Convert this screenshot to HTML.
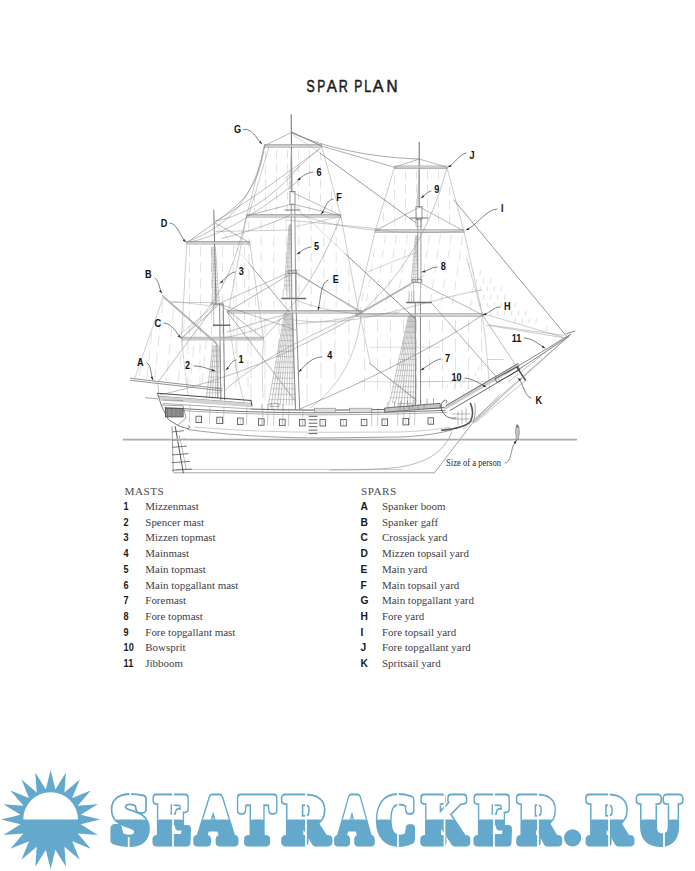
<!DOCTYPE html>
<html><head><meta charset="utf-8">
<style>
html,body{margin:0;padding:0;background:#fff;}
body{width:695px;height:871px;position:relative;overflow:hidden;}
.t{position:absolute;white-space:nowrap;}
#title{left:306px;top:75px;font-family:"Liberation Sans",sans-serif;font-size:16px;letter-spacing:1.2px;color:#1d1d1f;}
.leg{position:absolute;white-space:nowrap;font-family:"Liberation Serif",serif;font-size:11px;line-height:12px;color:#3a3a40;}
.hd{position:absolute;white-space:nowrap;font-family:"Liberation Serif",serif;font-size:11px;line-height:12px;color:#55555c;letter-spacing:0.3px;}
.n{position:absolute;white-space:nowrap;font-family:"Liberation Sans",sans-serif;font-weight:bold;font-size:9.5px;line-height:11px;color:#1e1e22;}
svg{position:absolute;left:0;top:0;}
</style></head><body>
<svg id="ship" width="695" height="871" viewBox="0 0 695 871" fill="none" stroke-linecap="round">
<line x1="254.5" y1="194.0" x2="254.5" y2="211.0" stroke="#d6d6d6" stroke-width="0.7" stroke-dasharray="8 6"/>
<line x1="265.5" y1="151.9" x2="265.5" y2="211.0" stroke="#d6d6d6" stroke-width="0.7" stroke-dasharray="8 6"/>
<line x1="276.5" y1="150.0" x2="276.5" y2="211.0" stroke="#d6d6d6" stroke-width="0.7" stroke-dasharray="8 6"/>
<line x1="287.5" y1="150.0" x2="287.5" y2="211.0" stroke="#d6d6d6" stroke-width="0.7" stroke-dasharray="8 6"/>
<line x1="298.5" y1="150.0" x2="298.5" y2="211.0" stroke="#d6d6d6" stroke-width="0.7" stroke-dasharray="8 6"/>
<line x1="309.5" y1="150.0" x2="309.5" y2="211.0" stroke="#d6d6d6" stroke-width="0.7" stroke-dasharray="8 6"/>
<line x1="320.5" y1="151.8" x2="320.5" y2="211.0" stroke="#d6d6d6" stroke-width="0.7" stroke-dasharray="8 6"/>
<line x1="331.5" y1="191.5" x2="331.5" y2="211.0" stroke="#d6d6d6" stroke-width="0.7" stroke-dasharray="8 6"/>
<line x1="236.2" y1="281.4" x2="236.2" y2="307.0" stroke="#d6d6d6" stroke-width="0.7" stroke-dasharray="9 7"/>
<line x1="248.8" y1="222.2" x2="248.8" y2="307.0" stroke="#d6d6d6" stroke-width="0.7" stroke-dasharray="9 7"/>
<line x1="261.2" y1="221.0" x2="261.2" y2="307.0" stroke="#d6d6d6" stroke-width="0.7" stroke-dasharray="9 7"/>
<line x1="273.8" y1="221.0" x2="273.8" y2="307.0" stroke="#d6d6d6" stroke-width="0.7" stroke-dasharray="9 7"/>
<line x1="286.2" y1="221.0" x2="286.2" y2="307.0" stroke="#d6d6d6" stroke-width="0.7" stroke-dasharray="9 7"/>
<line x1="298.8" y1="221.0" x2="298.8" y2="307.0" stroke="#d6d6d6" stroke-width="0.7" stroke-dasharray="9 7"/>
<line x1="311.2" y1="221.0" x2="311.2" y2="307.0" stroke="#d6d6d6" stroke-width="0.7" stroke-dasharray="9 7"/>
<line x1="323.8" y1="221.0" x2="323.8" y2="307.0" stroke="#d6d6d6" stroke-width="0.7" stroke-dasharray="9 7"/>
<line x1="336.2" y1="221.0" x2="336.2" y2="307.0" stroke="#d6d6d6" stroke-width="0.7" stroke-dasharray="9 7"/>
<line x1="348.8" y1="267.2" x2="348.8" y2="307.0" stroke="#d6d6d6" stroke-width="0.7" stroke-dasharray="9 7"/>
<line x1="237.0" y1="318.0" x2="237.0" y2="376.3" stroke="#d6d6d6" stroke-width="0.7" stroke-dasharray="16 6"/>
<line x1="251.0" y1="318.0" x2="251.0" y2="403.0" stroke="#d6d6d6" stroke-width="0.7" stroke-dasharray="16 6"/>
<line x1="265.0" y1="318.0" x2="265.0" y2="403.0" stroke="#d6d6d6" stroke-width="0.7" stroke-dasharray="16 6"/>
<line x1="279.0" y1="318.0" x2="279.0" y2="403.0" stroke="#d6d6d6" stroke-width="0.7" stroke-dasharray="16 6"/>
<line x1="293.0" y1="318.0" x2="293.0" y2="403.0" stroke="#d6d6d6" stroke-width="0.7" stroke-dasharray="16 6"/>
<line x1="307.0" y1="318.0" x2="307.0" y2="403.0" stroke="#d6d6d6" stroke-width="0.7" stroke-dasharray="16 6"/>
<line x1="321.0" y1="318.0" x2="321.0" y2="396.2" stroke="#d6d6d6" stroke-width="0.7" stroke-dasharray="16 6"/>
<line x1="335.0" y1="318.0" x2="335.0" y2="385.6" stroke="#d6d6d6" stroke-width="0.7" stroke-dasharray="16 6"/>
<line x1="349.0" y1="318.0" x2="349.0" y2="360.9" stroke="#d6d6d6" stroke-width="0.7" stroke-dasharray="16 6"/>
<line x1="383.5" y1="212.7" x2="383.5" y2="227.0" stroke="#d6d6d6" stroke-width="0.7" stroke-dasharray="8 6"/>
<line x1="394.5" y1="176.0" x2="394.5" y2="227.0" stroke="#d6d6d6" stroke-width="0.7" stroke-dasharray="8 6"/>
<line x1="405.5" y1="171.0" x2="405.5" y2="227.0" stroke="#d6d6d6" stroke-width="0.7" stroke-dasharray="8 6"/>
<line x1="416.5" y1="171.0" x2="416.5" y2="227.0" stroke="#d6d6d6" stroke-width="0.7" stroke-dasharray="8 6"/>
<line x1="427.5" y1="171.0" x2="427.5" y2="227.0" stroke="#d6d6d6" stroke-width="0.7" stroke-dasharray="8 6"/>
<line x1="438.5" y1="171.0" x2="438.5" y2="227.0" stroke="#d6d6d6" stroke-width="0.7" stroke-dasharray="8 6"/>
<line x1="449.5" y1="186.9" x2="449.5" y2="227.0" stroke="#d6d6d6" stroke-width="0.7" stroke-dasharray="8 6"/>
<line x1="363.5" y1="292.3" x2="360.8" y2="310.0" stroke="#d6d6d6" stroke-width="0.7" stroke-dasharray="8 7"/>
<line x1="374.5" y1="248.8" x2="365.3" y2="310.0" stroke="#d6d6d6" stroke-width="0.7" stroke-dasharray="8 7"/>
<line x1="385.5" y1="235.0" x2="374.2" y2="310.0" stroke="#d6d6d6" stroke-width="0.7" stroke-dasharray="8 7"/>
<line x1="396.5" y1="235.0" x2="385.2" y2="310.0" stroke="#d6d6d6" stroke-width="0.7" stroke-dasharray="8 7"/>
<line x1="407.5" y1="235.0" x2="396.2" y2="310.0" stroke="#d6d6d6" stroke-width="0.7" stroke-dasharray="8 7"/>
<line x1="418.5" y1="235.0" x2="407.2" y2="310.0" stroke="#d6d6d6" stroke-width="0.7" stroke-dasharray="8 7"/>
<line x1="429.5" y1="235.0" x2="418.2" y2="310.0" stroke="#d6d6d6" stroke-width="0.7" stroke-dasharray="8 7"/>
<line x1="440.5" y1="235.0" x2="429.2" y2="310.0" stroke="#d6d6d6" stroke-width="0.7" stroke-dasharray="8 7"/>
<line x1="451.5" y1="235.0" x2="440.2" y2="310.0" stroke="#d6d6d6" stroke-width="0.7" stroke-dasharray="8 7"/>
<line x1="462.5" y1="237.2" x2="451.6" y2="310.0" stroke="#d6d6d6" stroke-width="0.7" stroke-dasharray="8 7"/>
<line x1="473.5" y1="285.5" x2="469.8" y2="310.0" stroke="#d6d6d6" stroke-width="0.7" stroke-dasharray="8 7"/>
<line x1="364.5" y1="320.0" x2="364.5" y2="396.0" stroke="#d6d6d6" stroke-width="0.7" stroke-dasharray="12 7"/>
<line x1="377.5" y1="320.0" x2="377.5" y2="396.0" stroke="#d6d6d6" stroke-width="0.7" stroke-dasharray="12 7"/>
<line x1="390.5" y1="320.0" x2="390.5" y2="396.0" stroke="#d6d6d6" stroke-width="0.7" stroke-dasharray="12 7"/>
<line x1="403.5" y1="320.0" x2="403.5" y2="396.0" stroke="#d6d6d6" stroke-width="0.7" stroke-dasharray="12 7"/>
<line x1="416.5" y1="320.0" x2="416.5" y2="396.0" stroke="#d6d6d6" stroke-width="0.7" stroke-dasharray="12 7"/>
<line x1="429.5" y1="320.0" x2="429.5" y2="396.0" stroke="#d6d6d6" stroke-width="0.7" stroke-dasharray="12 7"/>
<line x1="442.5" y1="320.0" x2="442.5" y2="396.0" stroke="#d6d6d6" stroke-width="0.7" stroke-dasharray="12 7"/>
<line x1="455.5" y1="320.0" x2="455.5" y2="396.0" stroke="#d6d6d6" stroke-width="0.7" stroke-dasharray="12 7"/>
<line x1="468.5" y1="320.0" x2="468.5" y2="396.0" stroke="#d6d6d6" stroke-width="0.7" stroke-dasharray="12 7"/>
<line x1="481.5" y1="320.0" x2="481.5" y2="377.1" stroke="#d6d6d6" stroke-width="0.7" stroke-dasharray="12 7"/>
<line x1="189.5" y1="247.0" x2="189.5" y2="334.0" stroke="#d6d6d6" stroke-width="0.7" stroke-dasharray="9 7"/>
<line x1="200.5" y1="247.0" x2="200.5" y2="334.0" stroke="#d6d6d6" stroke-width="0.7" stroke-dasharray="9 7"/>
<line x1="211.5" y1="247.0" x2="211.5" y2="334.0" stroke="#d6d6d6" stroke-width="0.7" stroke-dasharray="9 7"/>
<line x1="222.5" y1="247.0" x2="222.5" y2="334.0" stroke="#d6d6d6" stroke-width="0.7" stroke-dasharray="9 7"/>
<line x1="233.5" y1="247.0" x2="233.5" y2="334.0" stroke="#d6d6d6" stroke-width="0.7" stroke-dasharray="9 7"/>
<line x1="244.5" y1="247.0" x2="244.5" y2="334.0" stroke="#d6d6d6" stroke-width="0.7" stroke-dasharray="9 7"/>
<line x1="255.5" y1="295.8" x2="255.5" y2="334.0" stroke="#d6d6d6" stroke-width="0.7" stroke-dasharray="9 7"/>
<line x1="188.0" y1="343.0" x2="188.0" y2="393.0" stroke="#d6d6d6" stroke-width="0.7" stroke-dasharray="10 7"/>
<line x1="200.0" y1="343.0" x2="200.0" y2="393.0" stroke="#d6d6d6" stroke-width="0.7" stroke-dasharray="10 7"/>
<line x1="212.0" y1="343.0" x2="212.0" y2="393.0" stroke="#d6d6d6" stroke-width="0.7" stroke-dasharray="10 7"/>
<line x1="224.0" y1="343.0" x2="224.0" y2="393.0" stroke="#d6d6d6" stroke-width="0.7" stroke-dasharray="10 7"/>
<line x1="236.0" y1="343.0" x2="236.0" y2="393.0" stroke="#d6d6d6" stroke-width="0.7" stroke-dasharray="10 7"/>
<line x1="248.0" y1="343.0" x2="248.0" y2="393.0" stroke="#d6d6d6" stroke-width="0.7" stroke-dasharray="10 7"/>
<line x1="140.5" y1="365.3" x2="139.3" y2="377.5" stroke="#d6d6d6" stroke-width="0.7" stroke-dasharray="10 7"/>
<line x1="151.5" y1="333.9" x2="147.0" y2="378.4" stroke="#d6d6d6" stroke-width="0.7" stroke-dasharray="10 7"/>
<line x1="162.5" y1="302.4" x2="154.8" y2="379.3" stroke="#d6d6d6" stroke-width="0.7" stroke-dasharray="10 7"/>
<line x1="173.5" y1="310.3" x2="166.5" y2="380.2" stroke="#d6d6d6" stroke-width="0.7" stroke-dasharray="10 7"/>
<line x1="184.5" y1="320.0" x2="178.4" y2="381.2" stroke="#d6d6d6" stroke-width="0.7" stroke-dasharray="10 7"/>
<line x1="195.5" y1="329.7" x2="190.3" y2="382.1" stroke="#d6d6d6" stroke-width="0.7" stroke-dasharray="10 7"/>
<line x1="206.5" y1="339.4" x2="202.1" y2="383.0" stroke="#d6d6d6" stroke-width="0.7" stroke-dasharray="10 7"/>
<line x1="264.4" y1="146.0" x2="246.6" y2="216.0" stroke="#ababab" stroke-width="0.6" />
<line x1="269.0" y1="147.0" x2="249.0" y2="214.0" stroke="#ababab" stroke-width="0.6" />
<line x1="321.5" y1="146.0" x2="340.8" y2="216.0" stroke="#ababab" stroke-width="0.6" />
<line x1="246.6" y1="216.0" x2="228.3" y2="312.0" stroke="#ababab" stroke-width="0.6" />
<line x1="340.8" y1="216.0" x2="358.6" y2="311.0" stroke="#ababab" stroke-width="0.6" />
<line x1="394.5" y1="167.3" x2="375.2" y2="231.0" stroke="#ababab" stroke-width="0.6" />
<line x1="446.9" y1="167.3" x2="463.9" y2="231.0" stroke="#ababab" stroke-width="0.6" />
<line x1="375.2" y1="231.0" x2="355.5" y2="314.8" stroke="#ababab" stroke-width="0.6" />
<line x1="463.9" y1="231.0" x2="482.4" y2="314.8" stroke="#ababab" stroke-width="0.6" />
<line x1="186.8" y1="242.8" x2="181.5" y2="338.6" stroke="#ababab" stroke-width="0.6" />
<line x1="249.8" y1="242.8" x2="263.5" y2="338.6" stroke="#ababab" stroke-width="0.6" />
<line x1="163.2" y1="297.0" x2="134.7" y2="378.4" stroke="#ababab" stroke-width="0.6" />
<path d="M361.4,313 C357,360 335,390 310,408" stroke="#ababab" stroke-width="0.6" />
<path d="M228.3,313 C232,350 238,380 244,402" stroke="#ababab" stroke-width="0.55" />
<line x1="360.0" y1="315.5" x2="370.2" y2="363.1" stroke="#ababab" stroke-width="0.55" />
<path d="M482.4,316 C486,340 488,365 489.6,390" stroke="#ababab" stroke-width="0.55" />
<path d="M181.5,340 C184,360 186,380 188,395" stroke="#ababab" stroke-width="0.5" />
<path d="M263.5,340 C262,360 262,380 263,398" stroke="#ababab" stroke-width="0.5" />
<line x1="370.0" y1="347.2" x2="440.0" y2="347.2" stroke="#bdbdbd" stroke-width="0.5" />
<line x1="360.0" y1="381.7" x2="440.0" y2="381.7" stroke="#bdbdbd" stroke-width="0.5" />
<line x1="291.2" y1="114.6" x2="291.8" y2="192.0" stroke="#6a6a6a" stroke-width="1.0" />
<line x1="291.2" y1="205.0" x2="291.8" y2="298.0" stroke="#6a6a6a" stroke-width="0.7" />
<line x1="294.8" y1="205.0" x2="295.7" y2="298.0" stroke="#6a6a6a" stroke-width="0.7" />
<line x1="291.6" y1="300.0" x2="295.6" y2="409.0" stroke="#6a6a6a" stroke-width="0.8" />
<line x1="295.8" y1="300.0" x2="299.6" y2="409.0" stroke="#6a6a6a" stroke-width="0.8" />
<rect x="290.0" y="191.6" width="5.0" height="13.1" stroke="#666" stroke-width="0.7" fill="none"/>
<line x1="419.2" y1="142.2" x2="419.2" y2="207.0" stroke="#6a6a6a" stroke-width="1.0" />
<line x1="417.7" y1="219.0" x2="417.7" y2="281.0" stroke="#6a6a6a" stroke-width="0.7" />
<line x1="420.9" y1="219.0" x2="420.9" y2="281.0" stroke="#6a6a6a" stroke-width="0.7" />
<rect x="416.0" y="219.6" width="5.5" height="7.0" stroke="#888" stroke-width="0.5" fill="none"/>
<line x1="415.3" y1="303.0" x2="415.5" y2="405.0" stroke="#6a6a6a" stroke-width="0.8" />
<line x1="420.4" y1="303.0" x2="420.6" y2="405.0" stroke="#6a6a6a" stroke-width="0.8" />
<rect x="416.0" y="206.7" width="6.0" height="12.3" stroke="#666" stroke-width="0.7" fill="none"/>
<line x1="213.8" y1="210.0" x2="216.0" y2="305.0" stroke="#6a6a6a" stroke-width="0.9" />
<line x1="219.6" y1="304.0" x2="220.8" y2="400.0" stroke="#6a6a6a" stroke-width="0.8" />
<line x1="223.2" y1="304.0" x2="224.7" y2="400.0" stroke="#6a6a6a" stroke-width="0.8" />
<line x1="213.6" y1="304.0" x2="213.8" y2="326.0" stroke="#888" stroke-width="0.5" />
<line x1="216.8" y1="345.0" x2="217.6" y2="398.0" stroke="#777" stroke-width="0.6" />
<line x1="282.0" y1="298.6" x2="305.6" y2="298.6" stroke="#6a6a6a" stroke-width="1.5" />
<line x1="406.8" y1="302.6" x2="431.0" y2="302.6" stroke="#6a6a6a" stroke-width="1.5" />
<line x1="213.5" y1="325.3" x2="229.7" y2="325.3" stroke="#6a6a6a" stroke-width="1.5" />
<line x1="285.0" y1="210.0" x2="300.0" y2="210.0" stroke="#777" stroke-width="1.0" />
<line x1="410.0" y1="218.0" x2="428.0" y2="218.0" stroke="#777" stroke-width="1.0" />
<line x1="211.0" y1="304.0" x2="223.0" y2="304.0" stroke="#777" stroke-width="1.0" />
<rect x="288.0" y="270.2" width="8.8" height="3.2" stroke="#666" stroke-width="0.6" fill="none"/>
<rect x="289.2" y="273.4" width="7.2" height="25.0" stroke="#888" stroke-width="0.5" fill="none"/>
<rect x="412.3" y="279.3" width="9.0" height="3.4" stroke="#666" stroke-width="0.6" fill="none"/>
<rect x="413.2" y="282.7" width="7.4" height="19.5" stroke="#888" stroke-width="0.5" fill="none"/>
<line x1="264.4" y1="144.6" x2="321.5" y2="144.6" stroke="#9a9a9a" stroke-width="0.8" />
<line x1="264.4" y1="147.2" x2="321.5" y2="147.2" stroke="#9a9a9a" stroke-width="0.8" />
<line x1="264.4" y1="145.9" x2="321.5" y2="145.9" stroke="#c8c8c8" stroke-width="1.6" />
<line x1="246.6" y1="214.5" x2="340.8" y2="214.5" stroke="#9a9a9a" stroke-width="0.8" />
<line x1="246.6" y1="217.1" x2="340.8" y2="217.1" stroke="#9a9a9a" stroke-width="0.8" />
<line x1="246.6" y1="215.8" x2="340.8" y2="215.8" stroke="#c8c8c8" stroke-width="1.6" />
<line x1="227.5" y1="310.5" x2="361.6" y2="310.5" stroke="#9a9a9a" stroke-width="0.8" />
<line x1="227.5" y1="313.1" x2="361.6" y2="313.1" stroke="#9a9a9a" stroke-width="0.8" />
<line x1="227.5" y1="311.8" x2="361.6" y2="311.8" stroke="#c8c8c8" stroke-width="1.6" />
<line x1="186.8" y1="241.5" x2="249.8" y2="241.5" stroke="#9a9a9a" stroke-width="0.8" />
<line x1="186.8" y1="244.1" x2="249.8" y2="244.1" stroke="#9a9a9a" stroke-width="0.8" />
<line x1="186.8" y1="242.8" x2="249.8" y2="242.8" stroke="#c8c8c8" stroke-width="1.6" />
<line x1="181.5" y1="337.3" x2="263.5" y2="337.3" stroke="#9a9a9a" stroke-width="0.8" />
<line x1="181.5" y1="339.9" x2="263.5" y2="339.9" stroke="#9a9a9a" stroke-width="0.8" />
<line x1="181.5" y1="338.6" x2="263.5" y2="338.6" stroke="#c8c8c8" stroke-width="1.6" />
<line x1="394.5" y1="166.0" x2="446.9" y2="166.0" stroke="#9a9a9a" stroke-width="0.8" />
<line x1="394.5" y1="168.6" x2="446.9" y2="168.6" stroke="#9a9a9a" stroke-width="0.8" />
<line x1="394.5" y1="167.3" x2="446.9" y2="167.3" stroke="#c8c8c8" stroke-width="1.6" />
<line x1="375.2" y1="229.7" x2="463.9" y2="229.7" stroke="#9a9a9a" stroke-width="0.8" />
<line x1="375.2" y1="232.3" x2="463.9" y2="232.3" stroke="#9a9a9a" stroke-width="0.8" />
<line x1="375.2" y1="231.0" x2="463.9" y2="231.0" stroke="#c8c8c8" stroke-width="1.6" />
<line x1="356.1" y1="313.7" x2="482.7" y2="313.7" stroke="#9a9a9a" stroke-width="0.8" />
<line x1="356.1" y1="316.3" x2="482.7" y2="316.3" stroke="#9a9a9a" stroke-width="0.8" />
<line x1="356.1" y1="315.0" x2="482.7" y2="315.0" stroke="#c8c8c8" stroke-width="1.6" />
<line x1="162.5" y1="295.4" x2="216.7" y2="343.0" stroke="#777" stroke-width="0.8" />
<line x1="164.0" y1="297.6" x2="217.5" y2="345.0" stroke="#777" stroke-width="0.8" />
<line x1="163.0" y1="296.5" x2="217.0" y2="344.0" stroke="#bbb" stroke-width="1.2" />
<line x1="130.4" y1="378.3" x2="221.9" y2="388.8" stroke="#777" stroke-width="0.8" />
<line x1="130.4" y1="380.3" x2="221.9" y2="390.8" stroke="#777" stroke-width="0.8" />
<line x1="292.0" y1="132.2" x2="264.4" y2="145.9" stroke="#888" stroke-width="0.6" />
<line x1="292.0" y1="132.2" x2="321.5" y2="145.9" stroke="#888" stroke-width="0.6" />
<line x1="292.5" y1="204.0" x2="246.6" y2="215.8" stroke="#888" stroke-width="0.6" />
<line x1="292.5" y1="204.0" x2="340.8" y2="215.8" stroke="#888" stroke-width="0.6" />
<line x1="293.5" y1="272.0" x2="227.5" y2="311.8" stroke="#888" stroke-width="0.6" />
<line x1="293.5" y1="272.0" x2="361.6" y2="311.8" stroke="#888" stroke-width="0.6" />
<line x1="419.2" y1="159.0" x2="394.5" y2="167.3" stroke="#888" stroke-width="0.6" />
<line x1="419.2" y1="159.0" x2="446.9" y2="167.3" stroke="#888" stroke-width="0.6" />
<line x1="419.5" y1="207.0" x2="375.2" y2="231.0" stroke="#888" stroke-width="0.6" />
<line x1="419.5" y1="207.0" x2="463.9" y2="231.0" stroke="#888" stroke-width="0.6" />
<line x1="416.0" y1="281.0" x2="356.1" y2="315.0" stroke="#888" stroke-width="0.6" />
<line x1="416.0" y1="281.0" x2="482.7" y2="315.0" stroke="#888" stroke-width="0.6" />
<line x1="214.9" y1="222.7" x2="186.8" y2="242.8" stroke="#888" stroke-width="0.6" />
<line x1="214.9" y1="222.7" x2="249.8" y2="242.8" stroke="#888" stroke-width="0.6" />
<line x1="219.5" y1="304.0" x2="181.5" y2="338.6" stroke="#888" stroke-width="0.6" />
<line x1="219.5" y1="304.0" x2="263.5" y2="338.6" stroke="#888" stroke-width="0.6" />
<line x1="284.5" y1="313.8" x2="268.3" y2="405.0" stroke="#8f8f8f" stroke-width="0.5" />
<line x1="285.4" y1="313.8" x2="271.3" y2="405.0" stroke="#8f8f8f" stroke-width="0.5" />
<line x1="286.4" y1="313.8" x2="274.2" y2="405.0" stroke="#8f8f8f" stroke-width="0.5" />
<line x1="287.3" y1="313.8" x2="277.2" y2="405.0" stroke="#8f8f8f" stroke-width="0.5" />
<line x1="288.3" y1="313.8" x2="280.2" y2="405.0" stroke="#8f8f8f" stroke-width="0.5" />
<line x1="289.2" y1="313.8" x2="283.1" y2="405.0" stroke="#8f8f8f" stroke-width="0.5" />
<line x1="290.2" y1="313.8" x2="286.1" y2="405.0" stroke="#8f8f8f" stroke-width="0.5" />
<line x1="291.1" y1="313.8" x2="289.1" y2="405.0" stroke="#8f8f8f" stroke-width="0.5" />
<line x1="292.1" y1="313.8" x2="292.0" y2="405.0" stroke="#8f8f8f" stroke-width="0.5" />
<line x1="293.0" y1="313.8" x2="295.0" y2="405.0" stroke="#8f8f8f" stroke-width="0.5" />
<line x1="283.5" y1="319.2" x2="293.1" y2="319.2" stroke="#8f8f8f" stroke-width="0.4" />
<line x1="282.6" y1="324.5" x2="293.2" y2="324.5" stroke="#8f8f8f" stroke-width="0.4" />
<line x1="281.6" y1="329.9" x2="293.4" y2="329.9" stroke="#8f8f8f" stroke-width="0.4" />
<line x1="280.7" y1="335.3" x2="293.5" y2="335.3" stroke="#8f8f8f" stroke-width="0.4" />
<line x1="279.7" y1="340.6" x2="293.6" y2="340.6" stroke="#8f8f8f" stroke-width="0.4" />
<line x1="278.8" y1="346.0" x2="293.7" y2="346.0" stroke="#8f8f8f" stroke-width="0.4" />
<line x1="277.8" y1="351.4" x2="293.8" y2="351.4" stroke="#8f8f8f" stroke-width="0.4" />
<line x1="276.9" y1="356.7" x2="293.9" y2="356.7" stroke="#8f8f8f" stroke-width="0.4" />
<line x1="275.9" y1="362.1" x2="294.1" y2="362.1" stroke="#8f8f8f" stroke-width="0.4" />
<line x1="275.0" y1="367.4" x2="294.2" y2="367.4" stroke="#8f8f8f" stroke-width="0.4" />
<line x1="274.0" y1="372.8" x2="294.3" y2="372.8" stroke="#8f8f8f" stroke-width="0.4" />
<line x1="273.1" y1="378.2" x2="294.4" y2="378.2" stroke="#8f8f8f" stroke-width="0.4" />
<line x1="272.1" y1="383.5" x2="294.5" y2="383.5" stroke="#8f8f8f" stroke-width="0.4" />
<line x1="271.2" y1="388.9" x2="294.6" y2="388.9" stroke="#8f8f8f" stroke-width="0.4" />
<line x1="270.2" y1="394.3" x2="294.8" y2="394.3" stroke="#8f8f8f" stroke-width="0.4" />
<line x1="269.3" y1="399.6" x2="294.9" y2="399.6" stroke="#8f8f8f" stroke-width="0.4" />
<line x1="408.5" y1="316.0" x2="389.5" y2="403.0" stroke="#8f8f8f" stroke-width="0.5" />
<line x1="409.3" y1="316.0" x2="392.4" y2="403.0" stroke="#8f8f8f" stroke-width="0.5" />
<line x1="410.1" y1="316.0" x2="395.4" y2="403.0" stroke="#8f8f8f" stroke-width="0.5" />
<line x1="410.8" y1="316.0" x2="398.3" y2="403.0" stroke="#8f8f8f" stroke-width="0.5" />
<line x1="411.6" y1="316.0" x2="401.3" y2="403.0" stroke="#8f8f8f" stroke-width="0.5" />
<line x1="412.4" y1="316.0" x2="404.2" y2="403.0" stroke="#8f8f8f" stroke-width="0.5" />
<line x1="413.2" y1="316.0" x2="407.2" y2="403.0" stroke="#8f8f8f" stroke-width="0.5" />
<line x1="413.9" y1="316.0" x2="410.1" y2="403.0" stroke="#8f8f8f" stroke-width="0.5" />
<line x1="414.7" y1="316.0" x2="413.1" y2="403.0" stroke="#8f8f8f" stroke-width="0.5" />
<line x1="415.5" y1="316.0" x2="416.0" y2="403.0" stroke="#8f8f8f" stroke-width="0.5" />
<line x1="407.3" y1="321.4" x2="415.5" y2="321.4" stroke="#8f8f8f" stroke-width="0.4" />
<line x1="406.1" y1="326.9" x2="415.6" y2="326.9" stroke="#8f8f8f" stroke-width="0.4" />
<line x1="404.9" y1="332.3" x2="415.6" y2="332.3" stroke="#8f8f8f" stroke-width="0.4" />
<line x1="403.8" y1="337.8" x2="415.6" y2="337.8" stroke="#8f8f8f" stroke-width="0.4" />
<line x1="402.6" y1="343.2" x2="415.7" y2="343.2" stroke="#8f8f8f" stroke-width="0.4" />
<line x1="401.4" y1="348.6" x2="415.7" y2="348.6" stroke="#8f8f8f" stroke-width="0.4" />
<line x1="400.2" y1="354.1" x2="415.7" y2="354.1" stroke="#8f8f8f" stroke-width="0.4" />
<line x1="399.0" y1="359.5" x2="415.8" y2="359.5" stroke="#8f8f8f" stroke-width="0.4" />
<line x1="397.8" y1="364.9" x2="415.8" y2="364.9" stroke="#8f8f8f" stroke-width="0.4" />
<line x1="396.6" y1="370.4" x2="415.8" y2="370.4" stroke="#8f8f8f" stroke-width="0.4" />
<line x1="395.4" y1="375.8" x2="415.8" y2="375.8" stroke="#8f8f8f" stroke-width="0.4" />
<line x1="394.2" y1="381.2" x2="415.9" y2="381.2" stroke="#8f8f8f" stroke-width="0.4" />
<line x1="393.1" y1="386.7" x2="415.9" y2="386.7" stroke="#8f8f8f" stroke-width="0.4" />
<line x1="391.9" y1="392.1" x2="415.9" y2="392.1" stroke="#8f8f8f" stroke-width="0.4" />
<line x1="390.7" y1="397.6" x2="416.0" y2="397.6" stroke="#8f8f8f" stroke-width="0.4" />
<line x1="213.0" y1="345.6" x2="206.4" y2="398.0" stroke="#8f8f8f" stroke-width="0.5" />
<line x1="214.3" y1="345.6" x2="209.3" y2="398.0" stroke="#8f8f8f" stroke-width="0.5" />
<line x1="215.6" y1="345.6" x2="212.2" y2="398.0" stroke="#8f8f8f" stroke-width="0.5" />
<line x1="216.9" y1="345.6" x2="215.2" y2="398.0" stroke="#8f8f8f" stroke-width="0.5" />
<line x1="218.2" y1="345.6" x2="218.1" y2="398.0" stroke="#8f8f8f" stroke-width="0.5" />
<line x1="219.5" y1="345.6" x2="221.0" y2="398.0" stroke="#8f8f8f" stroke-width="0.5" />
<line x1="212.3" y1="350.8" x2="219.7" y2="350.8" stroke="#8f8f8f" stroke-width="0.4" />
<line x1="211.7" y1="356.1" x2="219.8" y2="356.1" stroke="#8f8f8f" stroke-width="0.4" />
<line x1="211.0" y1="361.3" x2="219.9" y2="361.3" stroke="#8f8f8f" stroke-width="0.4" />
<line x1="210.4" y1="366.6" x2="220.1" y2="366.6" stroke="#8f8f8f" stroke-width="0.4" />
<line x1="209.7" y1="371.8" x2="220.2" y2="371.8" stroke="#8f8f8f" stroke-width="0.4" />
<line x1="209.0" y1="377.0" x2="220.4" y2="377.0" stroke="#8f8f8f" stroke-width="0.4" />
<line x1="208.4" y1="382.3" x2="220.6" y2="382.3" stroke="#8f8f8f" stroke-width="0.4" />
<line x1="207.7" y1="387.5" x2="220.7" y2="387.5" stroke="#8f8f8f" stroke-width="0.4" />
<line x1="207.1" y1="392.8" x2="220.8" y2="392.8" stroke="#8f8f8f" stroke-width="0.4" />
<line x1="289.0" y1="225.0" x2="284.2" y2="290.0" stroke="#999" stroke-width="0.5" />
<line x1="289.6" y1="225.0" x2="286.1" y2="290.0" stroke="#999" stroke-width="0.5" />
<line x1="290.1" y1="225.0" x2="287.9" y2="290.0" stroke="#999" stroke-width="0.5" />
<line x1="290.7" y1="225.0" x2="289.8" y2="290.0" stroke="#999" stroke-width="0.5" />
<line x1="291.3" y1="225.0" x2="291.6" y2="290.0" stroke="#999" stroke-width="0.5" />
<line x1="288.7" y1="229.6" x2="291.3" y2="229.6" stroke="#999" stroke-width="0.4" />
<line x1="288.3" y1="234.3" x2="291.3" y2="234.3" stroke="#999" stroke-width="0.4" />
<line x1="288.0" y1="238.9" x2="291.4" y2="238.9" stroke="#999" stroke-width="0.4" />
<line x1="287.6" y1="243.6" x2="291.4" y2="243.6" stroke="#999" stroke-width="0.4" />
<line x1="287.3" y1="248.2" x2="291.4" y2="248.2" stroke="#999" stroke-width="0.4" />
<line x1="286.9" y1="252.9" x2="291.4" y2="252.9" stroke="#999" stroke-width="0.4" />
<line x1="286.6" y1="257.5" x2="291.5" y2="257.5" stroke="#999" stroke-width="0.4" />
<line x1="286.3" y1="262.1" x2="291.5" y2="262.1" stroke="#999" stroke-width="0.4" />
<line x1="285.9" y1="266.8" x2="291.5" y2="266.8" stroke="#999" stroke-width="0.4" />
<line x1="285.6" y1="271.4" x2="291.5" y2="271.4" stroke="#999" stroke-width="0.4" />
<line x1="285.2" y1="276.1" x2="291.5" y2="276.1" stroke="#999" stroke-width="0.4" />
<line x1="284.9" y1="280.7" x2="291.6" y2="280.7" stroke="#999" stroke-width="0.4" />
<line x1="284.5" y1="285.4" x2="291.6" y2="285.4" stroke="#999" stroke-width="0.4" />
<line x1="283.1" y1="290.0" x2="283.1" y2="298.0" stroke="#999" stroke-width="0.5" />
<line x1="286.9" y1="290.0" x2="286.9" y2="298.0" stroke="#999" stroke-width="0.5" />
<line x1="290.2" y1="290.0" x2="290.2" y2="298.0" stroke="#999" stroke-width="0.5" />
<line x1="415.6" y1="236.0" x2="411.4" y2="281.0" stroke="#999" stroke-width="0.5" />
<line x1="416.3" y1="236.0" x2="413.5" y2="281.0" stroke="#999" stroke-width="0.5" />
<line x1="417.0" y1="236.0" x2="415.6" y2="281.0" stroke="#999" stroke-width="0.5" />
<line x1="417.7" y1="236.0" x2="417.7" y2="281.0" stroke="#999" stroke-width="0.5" />
<line x1="415.3" y1="239.5" x2="417.7" y2="239.5" stroke="#999" stroke-width="0.4" />
<line x1="415.0" y1="242.9" x2="417.7" y2="242.9" stroke="#999" stroke-width="0.4" />
<line x1="414.6" y1="246.4" x2="417.7" y2="246.4" stroke="#999" stroke-width="0.4" />
<line x1="414.3" y1="249.8" x2="417.7" y2="249.8" stroke="#999" stroke-width="0.4" />
<line x1="414.0" y1="253.3" x2="417.7" y2="253.3" stroke="#999" stroke-width="0.4" />
<line x1="413.7" y1="256.8" x2="417.7" y2="256.8" stroke="#999" stroke-width="0.4" />
<line x1="413.3" y1="260.2" x2="417.7" y2="260.2" stroke="#999" stroke-width="0.4" />
<line x1="413.0" y1="263.7" x2="417.7" y2="263.7" stroke="#999" stroke-width="0.4" />
<line x1="412.7" y1="267.2" x2="417.7" y2="267.2" stroke="#999" stroke-width="0.4" />
<line x1="412.4" y1="270.6" x2="417.7" y2="270.6" stroke="#999" stroke-width="0.4" />
<line x1="412.0" y1="274.1" x2="417.7" y2="274.1" stroke="#999" stroke-width="0.4" />
<line x1="411.7" y1="277.5" x2="417.7" y2="277.5" stroke="#999" stroke-width="0.4" />
<line x1="409.0" y1="291.0" x2="409.0" y2="302.0" stroke="#999" stroke-width="0.5" />
<line x1="411.5" y1="291.0" x2="411.5" y2="302.0" stroke="#999" stroke-width="0.5" />
<line x1="414.0" y1="291.0" x2="414.0" y2="302.0" stroke="#999" stroke-width="0.5" />
<line x1="211.5" y1="247.0" x2="213.0" y2="304.0" stroke="#999" stroke-width="0.5" />
<line x1="212.8" y1="247.0" x2="215.1" y2="304.0" stroke="#999" stroke-width="0.5" />
<line x1="214.0" y1="247.0" x2="217.2" y2="304.0" stroke="#999" stroke-width="0.5" />
<line x1="215.3" y1="247.0" x2="219.3" y2="304.0" stroke="#999" stroke-width="0.5" />
<line x1="211.6" y1="250.4" x2="215.5" y2="250.4" stroke="#999" stroke-width="0.4" />
<line x1="211.7" y1="253.7" x2="215.8" y2="253.7" stroke="#999" stroke-width="0.4" />
<line x1="211.8" y1="257.1" x2="216.0" y2="257.1" stroke="#999" stroke-width="0.4" />
<line x1="211.9" y1="260.4" x2="216.2" y2="260.4" stroke="#999" stroke-width="0.4" />
<line x1="211.9" y1="263.8" x2="216.5" y2="263.8" stroke="#999" stroke-width="0.4" />
<line x1="212.0" y1="267.1" x2="216.7" y2="267.1" stroke="#999" stroke-width="0.4" />
<line x1="212.1" y1="270.5" x2="216.9" y2="270.5" stroke="#999" stroke-width="0.4" />
<line x1="212.2" y1="273.8" x2="217.2" y2="273.8" stroke="#999" stroke-width="0.4" />
<line x1="212.3" y1="277.2" x2="217.4" y2="277.2" stroke="#999" stroke-width="0.4" />
<line x1="212.4" y1="280.5" x2="217.7" y2="280.5" stroke="#999" stroke-width="0.4" />
<line x1="212.5" y1="283.9" x2="217.9" y2="283.9" stroke="#999" stroke-width="0.4" />
<line x1="212.6" y1="287.2" x2="218.1" y2="287.2" stroke="#999" stroke-width="0.4" />
<line x1="212.6" y1="290.6" x2="218.4" y2="290.6" stroke="#999" stroke-width="0.4" />
<line x1="212.7" y1="293.9" x2="218.6" y2="293.9" stroke="#999" stroke-width="0.4" />
<line x1="212.8" y1="297.3" x2="218.8" y2="297.3" stroke="#999" stroke-width="0.4" />
<line x1="212.9" y1="300.6" x2="219.1" y2="300.6" stroke="#999" stroke-width="0.4" />
<line x1="291.3" y1="150.0" x2="289.0" y2="190.0" stroke="#aaa" stroke-width="0.5" />
<line x1="291.5" y1="150.0" x2="290.5" y2="190.0" stroke="#aaa" stroke-width="0.5" />
<line x1="291.6" y1="150.0" x2="292.0" y2="190.0" stroke="#aaa" stroke-width="0.5" />
<line x1="290.9" y1="156.7" x2="291.7" y2="156.7" stroke="#aaa" stroke-width="0.4" />
<line x1="290.5" y1="163.3" x2="291.7" y2="163.3" stroke="#aaa" stroke-width="0.4" />
<line x1="290.1" y1="170.0" x2="291.8" y2="170.0" stroke="#aaa" stroke-width="0.4" />
<line x1="289.8" y1="176.7" x2="291.9" y2="176.7" stroke="#aaa" stroke-width="0.4" />
<line x1="289.4" y1="183.3" x2="291.9" y2="183.3" stroke="#aaa" stroke-width="0.4" />
<line x1="419.2" y1="170.0" x2="417.0" y2="205.0" stroke="#aaa" stroke-width="0.5" />
<line x1="419.2" y1="170.0" x2="418.2" y2="205.0" stroke="#aaa" stroke-width="0.5" />
<line x1="419.2" y1="170.0" x2="419.5" y2="205.0" stroke="#aaa" stroke-width="0.5" />
<line x1="418.8" y1="177.0" x2="419.3" y2="177.0" stroke="#aaa" stroke-width="0.4" />
<line x1="418.3" y1="184.0" x2="419.3" y2="184.0" stroke="#aaa" stroke-width="0.4" />
<line x1="417.9" y1="191.0" x2="419.4" y2="191.0" stroke="#aaa" stroke-width="0.4" />
<line x1="417.4" y1="198.0" x2="419.4" y2="198.0" stroke="#aaa" stroke-width="0.4" />
<path d="M292,132.2 L321.5,146 L394.5,167.3" stroke="#7a7a7a" stroke-width="0.6" />
<path d="M292,133 C330,150 380,158 419.2,159" stroke="#7a7a7a" stroke-width="0.65" />
<line x1="321.5" y1="147.0" x2="285.0" y2="178.5" stroke="#999" stroke-width="0.5" />
<line x1="320.3" y1="153.3" x2="416.0" y2="222.8" stroke="#6f6f6f" stroke-width="0.7" />
<line x1="292.0" y1="134.0" x2="320.3" y2="153.3" stroke="#aaa" stroke-width="0.5" />
<line x1="292.5" y1="204.0" x2="345.5" y2="254.0" stroke="#b0b0b0" stroke-width="0.5" />
<line x1="345.5" y1="254.0" x2="415.0" y2="318.5" stroke="#6f6f6f" stroke-width="0.75" />
<line x1="369.4" y1="363.3" x2="416.1" y2="399.8" stroke="#6f6f6f" stroke-width="0.7" />
<line x1="295.0" y1="271.7" x2="359.5" y2="312.0" stroke="#888" stroke-width="0.6" />
<path d="M482.5,315 Q419,358.6 300,409" stroke="#7a7a7a" stroke-width="0.6" />
<line x1="482.5" y1="315.0" x2="517.0" y2="367.0" stroke="#888" stroke-width="0.55" />
<line x1="486.0" y1="325.0" x2="565.0" y2="338.0" stroke="#999" stroke-width="0.5" />
<line x1="420.0" y1="381.5" x2="496.0" y2="381.5" stroke="#aaa" stroke-width="0.5" />
<line x1="410.0" y1="285.0" x2="358.7" y2="314.7" stroke="#888" stroke-width="0.55" />
<path d="M358.7,314.7 Q260,372.7 160,395" stroke="#888" stroke-width="0.55" />
<line x1="227.0" y1="311.5" x2="293.7" y2="399.0" stroke="#7a7a7a" stroke-width="0.6" />
<line x1="414.7" y1="253.0" x2="368.0" y2="271.7" stroke="#aaa" stroke-width="0.5" />
<line x1="424.0" y1="275.5" x2="356.7" y2="314.7" stroke="#999" stroke-width="0.5" />
<line x1="295.0" y1="226.8" x2="340.8" y2="216.5" stroke="#aaa" stroke-width="0.5" />
<line x1="293.0" y1="192.6" x2="339.4" y2="214.8" stroke="#888" stroke-width="0.55" />
<line x1="285.0" y1="219.8" x2="379.7" y2="228.9" stroke="#999" stroke-width="0.5" />
<line x1="431.0" y1="302.5" x2="500.0" y2="381.0" stroke="#7a7a7a" stroke-width="0.6" />
<line x1="454.0" y1="200.0" x2="566.8" y2="336.6" stroke="#6f6f6f" stroke-width="0.7" />
<line x1="470.0" y1="263.0" x2="469.4" y2="267.0" stroke="#c8c8c8" stroke-width="0.6" />
<line x1="473.5" y1="271.0" x2="472.9" y2="275.0" stroke="#c8c8c8" stroke-width="0.6" />
<line x1="480.5" y1="271.0" x2="479.9" y2="275.0" stroke="#c8c8c8" stroke-width="0.6" />
<line x1="477.0" y1="279.0" x2="476.4" y2="283.0" stroke="#c8c8c8" stroke-width="0.6" />
<line x1="484.0" y1="279.0" x2="483.4" y2="283.0" stroke="#c8c8c8" stroke-width="0.6" />
<line x1="491.0" y1="279.0" x2="490.4" y2="283.0" stroke="#c8c8c8" stroke-width="0.6" />
<line x1="480.5" y1="287.0" x2="479.9" y2="291.0" stroke="#c8c8c8" stroke-width="0.6" />
<line x1="487.5" y1="287.0" x2="486.9" y2="291.0" stroke="#c8c8c8" stroke-width="0.6" />
<line x1="494.5" y1="287.0" x2="493.9" y2="291.0" stroke="#c8c8c8" stroke-width="0.6" />
<line x1="501.5" y1="287.0" x2="500.9" y2="291.0" stroke="#c8c8c8" stroke-width="0.6" />
<line x1="484.0" y1="295.0" x2="483.4" y2="299.0" stroke="#c8c8c8" stroke-width="0.6" />
<line x1="491.0" y1="295.0" x2="490.4" y2="299.0" stroke="#c8c8c8" stroke-width="0.6" />
<line x1="498.0" y1="295.0" x2="497.4" y2="299.0" stroke="#c8c8c8" stroke-width="0.6" />
<line x1="505.0" y1="295.0" x2="504.4" y2="299.0" stroke="#c8c8c8" stroke-width="0.6" />
<line x1="480.5" y1="303.0" x2="479.9" y2="307.0" stroke="#c8c8c8" stroke-width="0.6" />
<line x1="487.5" y1="303.0" x2="486.9" y2="307.0" stroke="#c8c8c8" stroke-width="0.6" />
<line x1="494.5" y1="303.0" x2="493.9" y2="307.0" stroke="#c8c8c8" stroke-width="0.6" />
<line x1="501.5" y1="303.0" x2="500.9" y2="307.0" stroke="#c8c8c8" stroke-width="0.6" />
<line x1="508.5" y1="303.0" x2="507.9" y2="307.0" stroke="#c8c8c8" stroke-width="0.6" />
<line x1="515.5" y1="303.0" x2="514.9" y2="307.0" stroke="#c8c8c8" stroke-width="0.6" />
<line x1="491.0" y1="311.0" x2="490.4" y2="315.0" stroke="#c8c8c8" stroke-width="0.6" />
<line x1="498.0" y1="311.0" x2="497.4" y2="315.0" stroke="#c8c8c8" stroke-width="0.6" />
<line x1="505.0" y1="311.0" x2="504.4" y2="315.0" stroke="#c8c8c8" stroke-width="0.6" />
<line x1="512.0" y1="311.0" x2="511.4" y2="315.0" stroke="#c8c8c8" stroke-width="0.6" />
<line x1="519.0" y1="311.0" x2="518.4" y2="315.0" stroke="#c8c8c8" stroke-width="0.6" />
<line x1="526.0" y1="311.0" x2="525.4" y2="315.0" stroke="#c8c8c8" stroke-width="0.6" />
<line x1="515.5" y1="319.0" x2="514.9" y2="323.0" stroke="#c8c8c8" stroke-width="0.6" />
<line x1="522.5" y1="319.0" x2="521.9" y2="323.0" stroke="#c8c8c8" stroke-width="0.6" />
<line x1="529.5" y1="319.0" x2="528.9" y2="323.0" stroke="#c8c8c8" stroke-width="0.6" />
<line x1="536.5" y1="319.0" x2="535.9" y2="323.0" stroke="#c8c8c8" stroke-width="0.6" />
<line x1="547.0" y1="327.0" x2="546.4" y2="331.0" stroke="#c8c8c8" stroke-width="0.6" />
<line x1="466.5" y1="257.8" x2="482.0" y2="313.3" stroke="#ababab" stroke-width="0.6" />
<line x1="482.0" y1="313.3" x2="565.0" y2="337.8" stroke="#ababab" stroke-width="0.6" />
<line x1="479.0" y1="367.0" x2="478.4" y2="370.0" stroke="#cfcfcf" stroke-width="0.6" />
<line x1="468.5" y1="373.0" x2="467.9" y2="376.0" stroke="#cfcfcf" stroke-width="0.6" />
<line x1="475.5" y1="373.0" x2="474.9" y2="376.0" stroke="#cfcfcf" stroke-width="0.6" />
<line x1="451.0" y1="379.0" x2="450.4" y2="382.0" stroke="#cfcfcf" stroke-width="0.6" />
<line x1="458.0" y1="379.0" x2="457.4" y2="382.0" stroke="#cfcfcf" stroke-width="0.6" />
<line x1="465.0" y1="379.0" x2="464.4" y2="382.0" stroke="#cfcfcf" stroke-width="0.6" />
<line x1="472.0" y1="379.0" x2="471.4" y2="382.0" stroke="#cfcfcf" stroke-width="0.6" />
<line x1="447.5" y1="385.0" x2="446.9" y2="388.0" stroke="#cfcfcf" stroke-width="0.6" />
<line x1="454.5" y1="385.0" x2="453.9" y2="388.0" stroke="#cfcfcf" stroke-width="0.6" />
<line x1="461.5" y1="385.0" x2="460.9" y2="388.0" stroke="#cfcfcf" stroke-width="0.6" />
<line x1="468.5" y1="385.0" x2="467.9" y2="388.0" stroke="#cfcfcf" stroke-width="0.6" />
<line x1="249.0" y1="263.5" x2="289.0" y2="311.7" stroke="#6f6f6f" stroke-width="0.6" />
<line x1="214.9" y1="222.7" x2="249.0" y2="263.5" stroke="#c8c8c8" stroke-width="0.5" />
<line x1="218.2" y1="304.0" x2="293.5" y2="270.5" stroke="#888" stroke-width="0.55" />
<line x1="216.0" y1="231.5" x2="290.5" y2="230.0" stroke="#999" stroke-width="0.5" />
<line x1="219.5" y1="304.0" x2="296.0" y2="330.0" stroke="#888" stroke-width="0.55" />
<line x1="170.0" y1="302.5" x2="215.9" y2="302.5" stroke="#999" stroke-width="0.5" />
<line x1="171.0" y1="301.0" x2="215.9" y2="306.6" stroke="#aaa" stroke-width="0.5" />
<line x1="215.9" y1="304.2" x2="158.0" y2="382.0" stroke="#888" stroke-width="0.55" />
<line x1="215.9" y1="304.2" x2="177.0" y2="337.0" stroke="#999" stroke-width="0.5" />
<path d="M264.6,146 C258,190 240,205 216.3,221.2" stroke="#8a8a8a" stroke-width="0.6" />
<path d="M264.4,146 C255,195 232,225 186.8,242" stroke="#8a8a8a" stroke-width="0.55" />
<path d="M319.8,148.9 C285,175 250,200 214.7,222.3" stroke="#8a8a8a" stroke-width="0.55" />
<path d="M300,166 C270,200 245,215 216,221" stroke="#8a8a8a" stroke-width="0.55" />
<path d="M300,179.7 C260,210 225,235 190.4,241.9" stroke="#8a8a8a" stroke-width="0.55" />
<path d="M288.8,216 C260,228 240,234 221.5,238.4" stroke="#8a8a8a" stroke-width="0.55" />
<path d="M246.6,216 C235,265 222,300 181.5,338" stroke="#8a8a8a" stroke-width="0.5" />
<path d="M340.8,216 C320,270 300,300 263.5,338" stroke="#8a8a8a" stroke-width="0.5" />
<path d="M289,313.8 C270,318 250,325 227,332" stroke="#8a8a8a" stroke-width="0.55" />
<path d="M289,315 C270,325 245,335 222,338" stroke="#8a8a8a" stroke-width="0.5" />
<path d="M446.9,168 C425,250 385,290 362,312" stroke="#8a8a8a" stroke-width="0.5" />
<path d="M300,214 C330,228 400,236 463,231" stroke="#8a8a8a" stroke-width="0.45" />
<path d="M296,300 C320,310 360,318 400,312" stroke="#8a8a8a" stroke-width="0.45" />
<path d="M355,315 C300,340 260,360 225,390" stroke="#8a8a8a" stroke-width="0.5" />
<path d="M294,320 C360,330 420,300 482,290" stroke="#8a8a8a" stroke-width="0.45" />
<path d="M356,316 C340,320 320,322 296,324" stroke="#8a8a8a" stroke-width="0.45" />
<path d="M157.5,393.3 L251,400.5 L252,406" stroke="#4a4a4a" stroke-width="1.1" />
<path d="M158,396.2 L251,403.5" stroke="#666" stroke-width="0.7" />
<path d="M161,400 L251,406.5" stroke="#888" stroke-width="0.5" />
<path d="M163,403.4 L251,409" stroke="#777" stroke-width="0.6" />
<polyline points="251.0,409.0 257.0,409.2 263.0,409.4 269.0,409.5 275.0,409.7 281.0,409.8 287.0,409.9 293.0,409.9 299.0,410.0 305.0,410.1 311.0,410.1 317.0,410.1 323.0,410.1 329.0,410.1 335.0,410.1 341.0,410.0 347.0,410.0 353.0,409.9 359.0,409.9 365.0,409.8 371.0,409.7 377.0,409.6 383.0,409.5 389.0,409.4 395.0,409.2 401.0,409.1 407.0,408.9 413.0,408.8 419.0,408.6 425.0,408.4 431.0,408.2 437.0,408.0 443.0,407.7 445.0,407.7" stroke="#4a4a4a" stroke-width="0.9"/>
<polyline points="165.0,407.5 171.0,407.9 177.0,408.3 183.0,408.6 189.0,409.0 195.0,409.3 201.0,409.7 207.0,410.0 213.0,410.3 219.0,410.5 225.0,410.8 231.0,411.0 237.0,411.3 243.0,411.5 249.0,411.7 255.0,411.9 261.0,412.0 267.0,412.2 273.0,412.3 279.0,412.4 285.0,412.5 291.0,412.6 297.0,412.7 303.0,412.7 309.0,412.8 315.0,412.8 321.0,412.8 327.0,412.8 333.0,412.8 339.0,412.7 345.0,412.7 351.0,412.7 357.0,412.6 363.0,412.5 369.0,412.4 375.0,412.3 381.0,412.2 387.0,412.1 393.0,412.0 399.0,411.8 405.0,411.7 411.0,411.5 417.0,411.3 423.0,411.1 429.0,411.0 435.0,410.7 441.0,410.5 445.0,410.4" stroke="#555" stroke-width="0.8"/>
<polyline points="166.0,409.5 172.0,409.9 178.0,410.3 184.0,410.7 190.0,411.0 196.0,411.4 202.0,411.7 208.0,412.0 214.0,412.3 220.0,412.6 226.0,412.8 232.0,413.1 238.0,413.3 244.0,413.5 250.0,413.7 256.0,413.9 262.0,414.1 268.0,414.2 274.0,414.3 280.0,414.4 286.0,414.5 292.0,414.6 298.0,414.7 304.0,414.7 310.0,414.8 316.0,414.8 322.0,414.8 328.0,414.8 334.0,414.8 340.0,414.7 346.0,414.7 352.0,414.6 358.0,414.6 364.0,414.5 370.0,414.4 376.0,414.3 382.0,414.2 388.0,414.1 394.0,413.9 400.0,413.8 406.0,413.6 412.0,413.5 418.0,413.3 424.0,413.1 430.0,412.9 436.0,412.7 442.0,412.5 447.0,412.3" stroke="#777" stroke-width="0.6"/>
<path d="M385,408 L440,403.3 L440.5,407.8 L385,412.2 Z" fill="#c4c4c4" stroke="#555" stroke-width="0.8"/>
<line x1="388.0" y1="402.2" x2="388.0" y2="407.2" stroke="#777" stroke-width="0.6" />
<line x1="394.5" y1="401.7" x2="394.5" y2="406.7" stroke="#777" stroke-width="0.6" />
<line x1="401.0" y1="401.1" x2="401.0" y2="406.1" stroke="#777" stroke-width="0.6" />
<line x1="407.5" y1="400.6" x2="407.5" y2="405.6" stroke="#777" stroke-width="0.6" />
<line x1="414.0" y1="400.0" x2="414.0" y2="405.0" stroke="#777" stroke-width="0.6" />
<line x1="420.5" y1="399.5" x2="420.5" y2="404.5" stroke="#777" stroke-width="0.6" />
<line x1="427.0" y1="398.9" x2="427.0" y2="403.9" stroke="#777" stroke-width="0.6" />
<line x1="433.5" y1="398.4" x2="433.5" y2="403.4" stroke="#777" stroke-width="0.6" />
<path d="M158,396.2 L251,403.5 L251,406.5 L161,400 Z" fill="#d2d2d2" stroke="none"/>
<line x1="145.5" y1="397.6" x2="158.0" y2="398.9" stroke="#b5b5b5" stroke-width="1.1" />
<line x1="158.0" y1="385.0" x2="158.6" y2="393.0" stroke="#999" stroke-width="0.6" />
<path d="M157.5,393.3 L161.5,406 L168.4,419.5 L177.6,425.3 C181,427 186,428 187,428.5 C190,429 191,426.5 188.5,425.8" stroke="#555" stroke-width="0.8" />
<path d="M161.5,405.1 L183,405.8 L186,418 L177.6,425.3" stroke="#666" stroke-width="0.6" />
<rect x="165.5" y="408.3" width="17.6" height="8.6" stroke="#444" stroke-width="0.8" fill="#8f8f8f"/>
<line x1="167.5" y1="409.5" x2="167.5" y2="416.0" stroke="#666" stroke-width="0.6" />
<line x1="171.7" y1="409.5" x2="171.7" y2="416.0" stroke="#666" stroke-width="0.6" />
<line x1="175.9" y1="409.5" x2="175.9" y2="416.0" stroke="#666" stroke-width="0.6" />
<line x1="180.1" y1="409.5" x2="180.1" y2="416.0" stroke="#666" stroke-width="0.6" />
<path d="M163,400 L183,400.6" stroke="#777" stroke-width="0.5" />
<rect x="196.0" y="416.2" width="5.6" height="6.4" stroke="#4a4a4a" stroke-width="0.8" fill="none"/>
<line x1="198.8" y1="416.7" x2="198.8" y2="422.1" stroke="#aaa" stroke-width="0.5" />
<rect x="216.8" y="417.2" width="5.6" height="6.4" stroke="#4a4a4a" stroke-width="0.8" fill="none"/>
<line x1="219.6" y1="417.7" x2="219.6" y2="423.1" stroke="#aaa" stroke-width="0.5" />
<rect x="237.5" y="418.1" width="5.6" height="6.4" stroke="#4a4a4a" stroke-width="0.8" fill="none"/>
<line x1="240.3" y1="418.6" x2="240.3" y2="424.0" stroke="#aaa" stroke-width="0.5" />
<rect x="258.5" y="418.8" width="5.6" height="6.4" stroke="#4a4a4a" stroke-width="0.8" fill="none"/>
<line x1="261.3" y1="419.3" x2="261.3" y2="424.7" stroke="#aaa" stroke-width="0.5" />
<rect x="279.5" y="419.2" width="5.6" height="6.4" stroke="#4a4a4a" stroke-width="0.8" fill="none"/>
<line x1="282.3" y1="419.7" x2="282.3" y2="425.1" stroke="#aaa" stroke-width="0.5" />
<rect x="299.5" y="419.5" width="5.6" height="6.4" stroke="#4a4a4a" stroke-width="0.8" fill="none"/>
<line x1="302.3" y1="420.0" x2="302.3" y2="425.4" stroke="#aaa" stroke-width="0.5" />
<rect x="320.0" y="419.6" width="5.6" height="6.4" stroke="#4a4a4a" stroke-width="0.8" fill="none"/>
<line x1="322.8" y1="420.1" x2="322.8" y2="425.5" stroke="#aaa" stroke-width="0.5" />
<rect x="340.7" y="419.5" width="5.6" height="6.4" stroke="#4a4a4a" stroke-width="0.8" fill="none"/>
<line x1="343.5" y1="420.0" x2="343.5" y2="425.4" stroke="#aaa" stroke-width="0.5" />
<rect x="361.3" y="419.3" width="5.6" height="6.4" stroke="#4a4a4a" stroke-width="0.8" fill="none"/>
<line x1="364.1" y1="419.8" x2="364.1" y2="425.2" stroke="#aaa" stroke-width="0.5" />
<rect x="382.0" y="419.0" width="5.6" height="6.4" stroke="#4a4a4a" stroke-width="0.8" fill="none"/>
<line x1="384.8" y1="419.5" x2="384.8" y2="424.9" stroke="#aaa" stroke-width="0.5" />
<rect x="403.0" y="418.5" width="5.6" height="6.4" stroke="#4a4a4a" stroke-width="0.8" fill="none"/>
<line x1="405.8" y1="419.0" x2="405.8" y2="424.4" stroke="#aaa" stroke-width="0.5" />
<rect x="428.0" y="417.8" width="5.6" height="6.4" stroke="#4a4a4a" stroke-width="0.8" fill="none"/>
<line x1="430.8" y1="418.3" x2="430.8" y2="423.7" stroke="#aaa" stroke-width="0.5" />
<line x1="190.0" y1="405.2" x2="189.5" y2="422.2" stroke="#999" stroke-width="0.5" />
<line x1="210.0" y1="406.3" x2="209.5" y2="423.3" stroke="#999" stroke-width="0.5" />
<line x1="224.0" y1="407.0" x2="223.5" y2="424.0" stroke="#999" stroke-width="0.5" />
<line x1="247.0" y1="407.8" x2="246.5" y2="424.8" stroke="#999" stroke-width="0.5" />
<line x1="263.0" y1="408.3" x2="262.5" y2="425.3" stroke="#999" stroke-width="0.5" />
<line x1="268.0" y1="408.4" x2="267.5" y2="425.4" stroke="#999" stroke-width="0.5" />
<line x1="274.0" y1="408.5" x2="273.5" y2="425.5" stroke="#999" stroke-width="0.5" />
<line x1="283.0" y1="408.7" x2="282.5" y2="425.7" stroke="#999" stroke-width="0.5" />
<line x1="289.0" y1="408.8" x2="288.5" y2="425.8" stroke="#999" stroke-width="0.5" />
<line x1="303.0" y1="408.9" x2="302.5" y2="425.9" stroke="#999" stroke-width="0.5" />
<line x1="372.0" y1="408.6" x2="371.5" y2="425.6" stroke="#999" stroke-width="0.5" />
<line x1="378.0" y1="408.5" x2="377.5" y2="425.5" stroke="#999" stroke-width="0.5" />
<line x1="398.0" y1="408.1" x2="397.5" y2="425.1" stroke="#999" stroke-width="0.5" />
<line x1="404.0" y1="407.9" x2="403.5" y2="424.9" stroke="#999" stroke-width="0.5" />
<line x1="410.0" y1="407.7" x2="409.5" y2="424.7" stroke="#999" stroke-width="0.5" />
<line x1="415.0" y1="407.6" x2="414.5" y2="424.6" stroke="#999" stroke-width="0.5" />
<line x1="309.0" y1="416.3" x2="317.0" y2="416.3" stroke="#555" stroke-width="0.9" />
<line x1="309.0" y1="419.8" x2="317.0" y2="419.8" stroke="#555" stroke-width="0.9" />
<line x1="309.0" y1="423.2" x2="317.0" y2="423.2" stroke="#555" stroke-width="0.9" />
<line x1="309.0" y1="426.7" x2="317.0" y2="426.7" stroke="#555" stroke-width="0.9" />
<line x1="309.0" y1="430.1" x2="317.0" y2="430.1" stroke="#555" stroke-width="0.9" />
<line x1="309.0" y1="433.6" x2="317.0" y2="433.6" stroke="#555" stroke-width="0.9" />
<rect x="314.4" y="408.2" width="21.0" height="4.2" stroke="#888" stroke-width="0.6" fill="#dcdcdc"/>
<rect x="349.6" y="408.2" width="22.0" height="4.2" stroke="#888" stroke-width="0.6" fill="#dcdcdc"/>
<line x1="262.0" y1="404.5" x2="262.0" y2="409.0" stroke="#777" stroke-width="0.6" />
<line x1="268.0" y1="404.5" x2="268.0" y2="409.0" stroke="#777" stroke-width="0.6" />
<line x1="272.0" y1="404.5" x2="272.0" y2="409.0" stroke="#777" stroke-width="0.6" />
<line x1="278.0" y1="404.5" x2="278.0" y2="409.0" stroke="#777" stroke-width="0.6" />
<line x1="283.0" y1="404.5" x2="283.0" y2="409.0" stroke="#777" stroke-width="0.6" />
<line x1="400.0" y1="404.5" x2="400.0" y2="409.0" stroke="#777" stroke-width="0.6" />
<line x1="404.0" y1="404.5" x2="404.0" y2="409.0" stroke="#777" stroke-width="0.6" />
<line x1="409.0" y1="404.5" x2="409.0" y2="409.0" stroke="#777" stroke-width="0.6" />
<line x1="413.0" y1="404.5" x2="413.0" y2="409.0" stroke="#777" stroke-width="0.6" />
<line x1="418.0" y1="404.5" x2="418.0" y2="409.0" stroke="#777" stroke-width="0.6" />
<line x1="424.0" y1="404.5" x2="424.0" y2="409.0" stroke="#777" stroke-width="0.6" />
<rect x="270.0" y="403.5" width="9.0" height="3.0" stroke="#777" stroke-width="0.5" fill="none"/>
<rect x="398.0" y="403.5" width="14.0" height="3.0" stroke="#777" stroke-width="0.5" fill="none"/>
<path d="M174,472.8 L434.5,472.8 L474,421" stroke="#9a9a9a" stroke-width="0.9" />
<path d="M176,469.4 L402,469.4" stroke="#b5b5b5" stroke-width="0.7" />
<path d="M452,431.7 C445,450 430,462 400,467 C380,469.5 360,470 330,470" stroke="#888" stroke-width="0.6" />
<line x1="474.8" y1="420.2" x2="499.3" y2="395.0" stroke="#888" stroke-width="0.55" />
<line x1="474.8" y1="422.3" x2="499.3" y2="399.3" stroke="#888" stroke-width="0.5" />
<path d="M188,429.5 C220,434 260,437.5 320,438 L400,437 C425,436 440,433 452,430" stroke="#888" stroke-width="0.8" />
<path d="M195,427 C230,430 270,432 320,432.3 L400,432 C425,431 440,429 450,427" stroke="#aaa" stroke-width="0.6" />
<path d="M172,426.7 L173.3,472" stroke="#777" stroke-width="0.7" />
<path d="M175.3,426.7 L183.3,472.7" stroke="#444" stroke-width="0.9" />
<path d="M179.3,435.3 L186.3,469.3" stroke="#888" stroke-width="0.6" />
<line x1="172.5" y1="431.9" x2="183.5" y2="430.7" stroke="#555" stroke-width="0.8" />
<line x1="172.5" y1="440.3" x2="185.2" y2="439.1" stroke="#555" stroke-width="0.8" />
<line x1="172.5" y1="447.3" x2="186.6" y2="446.1" stroke="#555" stroke-width="0.8" />
<line x1="172.5" y1="454.9" x2="188.2" y2="453.7" stroke="#555" stroke-width="0.8" />
<line x1="172.5" y1="462.6" x2="189.8" y2="461.4" stroke="#555" stroke-width="0.8" />
<line x1="172.5" y1="470.3" x2="191.4" y2="469.1" stroke="#555" stroke-width="0.8" />
<path d="M444,400.7 C440,403 440,410 445,415 C448,418 452,418.5 456,418" stroke="#555" stroke-width="0.9" />
<path d="M444,400.7 C446,399 448,401 446,403" stroke="#555" stroke-width="0.8" />
<path d="M441.7,430.3 C455,429 466,426 470.5,421.6 C473,416 473,409 470.5,403.6" stroke="#555" stroke-width="1.6" />
<path d="M474.8,403.6 C476,410 475,417 473.4,422.3" stroke="#777" stroke-width="0.7" />
<path d="M458,412 L458,425 M462,410 L462,424 M466,408 L466,422 M452,414 L470,414 M452,419 L470,419" stroke="#777" stroke-width="0.5" />
<line x1="446.0" y1="407.6" x2="518.0" y2="365.5" stroke="#c9c9c9" stroke-width="3.2" />
<line x1="446.0" y1="405.5" x2="518.0" y2="363.5" stroke="#5e5e5e" stroke-width="0.9" />
<line x1="450.0" y1="410.4" x2="520.0" y2="369.4" stroke="#5e5e5e" stroke-width="0.9" />
<line x1="505.0" y1="374.0" x2="570.5" y2="334.5" stroke="#6a6a6a" stroke-width="0.8" />
<line x1="507.0" y1="377.0" x2="569.0" y2="336.5" stroke="#6a6a6a" stroke-width="0.8" />
<line x1="566.0" y1="334.0" x2="575.0" y2="331.0" stroke="#6a6a6a" stroke-width="0.8" />
<path d="M495.4,378.5 L517.9,366.2 L519.8,369.6 L497.3,382.2 Z" stroke="#4a4a4a" stroke-width="0.8" />
<line x1="517.0" y1="367.3" x2="525.6" y2="380.3" stroke="#3f3f3f" stroke-width="1.4" />
<line x1="570.5" y1="334.5" x2="463.5" y2="428.6" stroke="#808080" stroke-width="0.55" />
<line x1="570.5" y1="334.5" x2="473.8" y2="421.7" stroke="#808080" stroke-width="0.55" />
<line x1="561.9" y1="338.8" x2="508.4" y2="382.0" stroke="#8a8a8a" stroke-width="0.5" />
<line x1="525.6" y1="380.3" x2="476.0" y2="422.0" stroke="#8a8a8a" stroke-width="0.5" />
<line x1="489.4" y1="325.0" x2="563.6" y2="335.4" stroke="#999" stroke-width="0.5" />
<line x1="487.6" y1="359.5" x2="503.2" y2="359.5" stroke="#aaa" stroke-width="0.5" />
<line x1="123.6" y1="439.6" x2="576.4" y2="439.6" stroke="#ababab" stroke-width="1.7" />
<path d="M517.2,425 C518.6,425.5 519.2,427 519,429 C519.6,431 519.5,434 518.8,436 L518.4,439.4 L516.2,439.4 L516,435 C515.4,432 515.4,429 516,427.5 C516.2,426 516.6,425.2 517.2,425 Z" fill="#c4c4c4" stroke="#777" stroke-width="0.6"/>
<ellipse cx="517.4" cy="426.3" rx="1.1" ry="1.4" fill="#777" stroke="none"/>
<text transform="translate(237.6,133.35) scale(0.86,1)" font-family="Liberation Sans" font-size="10.6" font-weight="bold" fill="#121212" stroke="none" text-anchor="middle">G</text>
<text transform="translate(319,175.65) scale(0.86,1)" font-family="Liberation Sans" font-size="10.6" font-weight="bold" fill="#121212" stroke="none" text-anchor="middle">6</text>
<text transform="translate(339,201.15) scale(0.86,1)" font-family="Liberation Sans" font-size="10.6" font-weight="bold" fill="#121212" stroke="none" text-anchor="middle">F</text>
<text transform="translate(316.5,249.65) scale(0.86,1)" font-family="Liberation Sans" font-size="10.6" font-weight="bold" fill="#121212" stroke="none" text-anchor="middle">5</text>
<text transform="translate(335.9,282.65) scale(0.86,1)" font-family="Liberation Sans" font-size="10.6" font-weight="bold" fill="#121212" stroke="none" text-anchor="middle">E</text>
<text transform="translate(329.9,359.04999999999995) scale(0.86,1)" font-family="Liberation Sans" font-size="10.6" font-weight="bold" fill="#121212" stroke="none" text-anchor="middle">4</text>
<text transform="translate(164,226.85) scale(0.86,1)" font-family="Liberation Sans" font-size="10.6" font-weight="bold" fill="#121212" stroke="none" text-anchor="middle">D</text>
<text transform="translate(241.4,274.65) scale(0.86,1)" font-family="Liberation Sans" font-size="10.6" font-weight="bold" fill="#121212" stroke="none" text-anchor="middle">3</text>
<text transform="translate(148.2,278.15) scale(0.86,1)" font-family="Liberation Sans" font-size="10.6" font-weight="bold" fill="#121212" stroke="none" text-anchor="middle">B</text>
<text transform="translate(157.8,326.54999999999995) scale(0.86,1)" font-family="Liberation Sans" font-size="10.6" font-weight="bold" fill="#121212" stroke="none" text-anchor="middle">C</text>
<text transform="translate(140.4,366.15) scale(0.86,1)" font-family="Liberation Sans" font-size="10.6" font-weight="bold" fill="#121212" stroke="none" text-anchor="middle">A</text>
<text transform="translate(187.6,368.95) scale(0.86,1)" font-family="Liberation Sans" font-size="10.6" font-weight="bold" fill="#121212" stroke="none" text-anchor="middle">2</text>
<text transform="translate(241,362.65) scale(0.86,1)" font-family="Liberation Sans" font-size="10.6" font-weight="bold" fill="#121212" stroke="none" text-anchor="middle">1</text>
<text transform="translate(472,158.95000000000002) scale(0.86,1)" font-family="Liberation Sans" font-size="10.6" font-weight="bold" fill="#121212" stroke="none" text-anchor="middle">J</text>
<text transform="translate(436.8,192.95000000000002) scale(0.86,1)" font-family="Liberation Sans" font-size="10.6" font-weight="bold" fill="#121212" stroke="none" text-anchor="middle">9</text>
<text transform="translate(502.3,212.25) scale(0.86,1)" font-family="Liberation Sans" font-size="10.6" font-weight="bold" fill="#121212" stroke="none" text-anchor="middle">I</text>
<text transform="translate(443.2,269.65) scale(0.86,1)" font-family="Liberation Sans" font-size="10.6" font-weight="bold" fill="#121212" stroke="none" text-anchor="middle">8</text>
<text transform="translate(507.3,309.84999999999997) scale(0.86,1)" font-family="Liberation Sans" font-size="10.6" font-weight="bold" fill="#121212" stroke="none" text-anchor="middle">H</text>
<text transform="translate(447.5,361.75) scale(0.86,1)" font-family="Liberation Sans" font-size="10.6" font-weight="bold" fill="#121212" stroke="none" text-anchor="middle">7</text>
<text transform="translate(516.5,341.65) scale(0.86,1)" font-family="Liberation Sans" font-size="10.6" font-weight="bold" fill="#121212" stroke="none" text-anchor="middle">11</text>
<text transform="translate(456.5,381.34999999999997) scale(0.86,1)" font-family="Liberation Sans" font-size="10.6" font-weight="bold" fill="#121212" stroke="none" text-anchor="middle">10</text>
<text transform="translate(538.8,404.45) scale(0.86,1)" font-family="Liberation Sans" font-size="10.6" font-weight="bold" fill="#121212" stroke="none" text-anchor="middle">K</text>
<path d="M243.6,129.4 C252,128 256,138 262,144" stroke="#3a3a3a" stroke-width="0.65" />
<path d="M262.0,144.0 L259.0,142.5 L260.5,141.0 Z" fill="#222" stroke="none"/>
<path d="M313,172 C305,173 301,178 297.5,180" stroke="#3a3a3a" stroke-width="0.65" />
<path d="M297.5,180.0 L299.7,177.5 L300.8,179.4 Z" fill="#222" stroke="none"/>
<path d="M333,199 C325,201 326,209 321,214" stroke="#3a3a3a" stroke-width="0.65" />
<path d="M321.0,214.0 L322.5,211.0 L324.0,212.5 Z" fill="#222" stroke="none"/>
<path d="M311,247 C304,248 301,252 297,254" stroke="#3a3a3a" stroke-width="0.65" />
<path d="M297.0,254.0 L299.4,251.6 L300.4,253.6 Z" fill="#222" stroke="none"/>
<path d="M328,280 C320,283 321,300 318,310" stroke="#3a3a3a" stroke-width="0.65" />
<path d="M318.0,310.0 L317.9,306.6 L320.0,307.3 Z" fill="#222" stroke="none"/>
<path d="M322,357 C312,357 305,365 299,372" stroke="#3a3a3a" stroke-width="0.65" />
<path d="M299.0,372.0 L300.2,368.9 L301.9,370.3 Z" fill="#222" stroke="none"/>
<path d="M170,223 C178,224 180,237 186,242" stroke="#3a3a3a" stroke-width="0.65" />
<path d="M186.0,242.0 L182.8,240.8 L184.2,239.1 Z" fill="#222" stroke="none"/>
<path d="M235,272 C228,273 225,280 220,283" stroke="#3a3a3a" stroke-width="0.65" />
<path d="M220.0,283.0 L222.2,280.4 L223.3,282.3 Z" fill="#222" stroke="none"/>
<path d="M155,278 C160,282 159,290 162,293" stroke="#3a3a3a" stroke-width="0.65" />
<path d="M162.0,293.0 L159.0,291.5 L160.5,290.0 Z" fill="#222" stroke="none"/>
<path d="M164,323 C172,323 176,333 181,338" stroke="#3a3a3a" stroke-width="0.65" />
<path d="M181.0,338.0 L178.0,336.5 L179.5,335.0 Z" fill="#222" stroke="none"/>
<path d="M147,363 C152,366 150,374 153,380" stroke="#3a3a3a" stroke-width="0.65" />
<path d="M153.0,380.0 L150.6,377.6 L152.6,376.6 Z" fill="#222" stroke="none"/>
<path d="M194,366 C203,366 208,369 215,371" stroke="#3a3a3a" stroke-width="0.65" />
<path d="M215.0,371.0 L211.6,371.2 L212.2,369.1 Z" fill="#222" stroke="none"/>
<path d="M236,360 C231,361 230,366 226,370" stroke="#3a3a3a" stroke-width="0.65" />
<path d="M226.0,370.0 L227.5,367.0 L229.0,368.5 Z" fill="#222" stroke="none"/>
<path d="M466,153 C458,155 455,164 448,167" stroke="#3a3a3a" stroke-width="0.65" />
<path d="M448.0,167.0 L450.5,164.7 L451.4,166.8 Z" fill="#222" stroke="none"/>
<path d="M431,191 C427,192 425,195 421,198" stroke="#3a3a3a" stroke-width="0.65" />
<path d="M421.0,198.0 L422.9,195.2 L424.2,197.0 Z" fill="#222" stroke="none"/>
<path d="M497,209 C485,210 478,225 466,230" stroke="#3a3a3a" stroke-width="0.65" />
<path d="M466.0,230.0 L468.5,227.8 L469.4,229.8 Z" fill="#222" stroke="none"/>
<path d="M437,267 C431,267 428,271 422,272" stroke="#3a3a3a" stroke-width="0.65" />
<path d="M422.0,272.0 L425.0,270.4 L425.3,272.6 Z" fill="#222" stroke="none"/>
<path d="M500,307 C493,307 490,313 483,315" stroke="#3a3a3a" stroke-width="0.65" />
<path d="M483.0,315.0 L485.8,313.1 L486.4,315.2 Z" fill="#222" stroke="none"/>
<path d="M441,359 C434,360 428,366 421,370" stroke="#3a3a3a" stroke-width="0.65" />
<path d="M421.0,370.0 L423.2,367.5 L424.3,369.4 Z" fill="#222" stroke="none"/>
<path d="M524,338 C532,338 538,344 545,348" stroke="#3a3a3a" stroke-width="0.65" />
<path d="M545.0,348.0 L541.7,347.4 L542.8,345.5 Z" fill="#222" stroke="none"/>
<path d="M465,378 C473,379 479,383 486,387" stroke="#3a3a3a" stroke-width="0.65" />
<path d="M486.0,387.0 L482.7,386.4 L483.8,384.5 Z" fill="#222" stroke="none"/>
<path d="M531,398 C524,396 524,384 518,378" stroke="#3a3a3a" stroke-width="0.65" />
<path d="M518.0,378.0 L521.0,379.5 L519.5,381.0 Z" fill="#222" stroke="none"/>
<text x="446" y="465.5" font-family="Liberation Serif" font-size="9.3" textLength="55" lengthAdjust="spacingAndGlyphs" fill="#2a2a2a" stroke="none">Size of a person</text>
<path d="M505,463 C511,463 511,450 513.5,445 L516.5,440.5" stroke="#444" stroke-width="0.6" />
<path d="M516.8,440 L513.6,442.6 L515.3,444 Z" fill="#222" stroke="none"/>
</svg>
<svg width="695" height="871" viewBox="0 0 695 871" style="position:absolute;left:0;top:0">
<g font-family="Liberation Serif" font-size="11.2" fill="#4a4a50" letter-spacing="0.5">
<text x="124.5" y="495">MASTS</text><text x="361" y="495">SPARS</text></g>
<g font-family="Liberation Serif" font-size="11.3" fill="#404046">
<text transform="translate(145.3,510.0) scale(0.97,1)">Mizzenmast</text><text transform="translate(382,510.0) scale(0.97,1)">Spanker boom</text>
<text transform="translate(145.3,525.7) scale(0.97,1)">Spencer mast</text><text transform="translate(382,525.7) scale(0.97,1)">Spanker gaff</text>
<text transform="translate(145.3,541.4) scale(0.97,1)">Mizzen topmast</text><text transform="translate(382,541.4) scale(0.97,1)">Crossjack yard</text>
<text transform="translate(145.3,557.1) scale(0.97,1)">Mainmast</text><text transform="translate(382,557.1) scale(0.97,1)">Mizzen topsail yard</text>
<text transform="translate(145.3,572.8) scale(0.97,1)">Main topmast</text><text transform="translate(382,572.8) scale(0.97,1)">Main yard</text>
<text transform="translate(145.3,588.5) scale(0.97,1)">Main topgallant mast</text><text transform="translate(382,588.5) scale(0.97,1)">Main topsail yard</text>
<text transform="translate(145.3,604.2) scale(0.97,1)">Foremast</text><text transform="translate(382,604.2) scale(0.97,1)">Main topgallant yard</text>
<text transform="translate(145.3,619.9) scale(0.97,1)">Fore topmast</text><text transform="translate(382,619.9) scale(0.97,1)">Fore yard</text>
<text transform="translate(145.3,635.6) scale(0.97,1)">Fore topgallant mast</text><text transform="translate(382,635.6) scale(0.97,1)">Fore topsail yard</text>
<text transform="translate(145.3,651.3) scale(0.97,1)">Bowsprit</text><text transform="translate(382,651.3) scale(0.97,1)">Fore topgallant yard</text>
<text transform="translate(145.3,667.0) scale(0.97,1)">Jibboom</text><text transform="translate(382,667.0) scale(0.97,1)">Spritsail yard</text>
</g><g font-family="Liberation Sans" font-weight="bold" font-size="10.6" fill="#1a1a1a">
<text transform="translate(123.6,510.0) scale(0.86,1)">1</text><text transform="translate(360.4,510.0) scale(0.97,1)">A</text>
<text transform="translate(123.6,525.7) scale(0.86,1)">2</text><text transform="translate(360.4,525.7) scale(0.97,1)">B</text>
<text transform="translate(123.6,541.4) scale(0.86,1)">3</text><text transform="translate(360.4,541.4) scale(0.97,1)">C</text>
<text transform="translate(123.6,557.1) scale(0.86,1)">4</text><text transform="translate(360.4,557.1) scale(0.97,1)">D</text>
<text transform="translate(123.6,572.8) scale(0.86,1)">5</text><text transform="translate(360.4,572.8) scale(0.97,1)">E</text>
<text transform="translate(123.6,588.5) scale(0.86,1)">6</text><text transform="translate(360.4,588.5) scale(0.97,1)">F</text>
<text transform="translate(123.6,604.2) scale(0.86,1)">7</text><text transform="translate(360.4,604.2) scale(0.97,1)">G</text>
<text transform="translate(123.6,619.9) scale(0.86,1)">8</text><text transform="translate(360.4,619.9) scale(0.97,1)">H</text>
<text transform="translate(123.6,635.6) scale(0.86,1)">9</text><text transform="translate(360.4,635.6) scale(0.97,1)">I</text>
<text transform="translate(123.6,651.3) scale(0.86,1)">10</text><text transform="translate(360.4,651.3) scale(0.97,1)">J</text>
<text transform="translate(123.6,667.0) scale(0.86,1)">11</text><text transform="translate(360.4,667.0) scale(0.97,1)">K</text>
</g></svg>
<svg id="wm" width="695" height="871" viewBox="0 0 695 871">
<polygon points="50.60,770.00 55.37,789.48 65.93,772.43 64.45,792.42 79.75,779.47 72.17,798.03 90.73,790.45 77.78,805.75 97.77,804.27 80.72,814.83 100.20,819.60 80.72,824.37 97.77,834.93 77.78,833.45 90.73,848.75 72.17,841.17 79.75,859.73 64.45,846.78 65.93,866.77 55.37,849.72 50.60,869.20 45.83,849.72 35.27,866.77 36.75,846.78 21.45,859.73 29.03,841.17 10.47,848.75 23.42,833.45 3.43,834.93 20.48,824.37 1.00,819.60 20.48,814.83 3.43,804.27 23.42,805.75 10.47,790.45 29.03,798.03 21.45,779.47 36.75,792.42 35.27,772.43 45.83,789.48" fill="#64a9cb"/><path d="M23.20,819.6 A27.4,27.4 0 0 1 78.00,819.6 Z" fill="#fff"/>
<g font-family="Liberation Sans" font-size="16.8" fill="#1c1c20" stroke="#1c1c20" stroke-width="0.55"><text transform="translate(306.52,91.62) scale(0.729,1)">S</text><text transform="translate(317.28,91.62) scale(0.721,1)">P</text><text transform="translate(326.65,91.62) scale(0.902,1)">A</text><text transform="translate(338.85,91.62) scale(0.747,1)">R</text><text transform="translate(354.28,91.62) scale(0.721,1)">P</text><text transform="translate(364.26,91.62) scale(0.736,1)">L</text><text transform="translate(372.74,91.62) scale(0.965,1)">A</text><text transform="translate(386.62,91.62) scale(0.911,1)">N</text></g>
<defs><clipPath id="lo"><rect x="0" y="819.7" width="695" height="60"/></clipPath><clipPath id="hi"><rect x="0" y="700" width="695" height="119.70000000000005"/></clipPath></defs>
<g font-family="Liberation Serif" font-weight="bold" font-size="67.50" clip-path="url(#hi)" stroke-linejoin="round"><g fill="#64a9cb" stroke="#64a9cb" stroke-width="8.8"><text transform="translate(111.35,841.60) scale(0.988,1)">S</text><text transform="translate(155.00,841.60) scale(0.784,1)">E</text><text transform="translate(196.37,841.60) scale(0.803,1)">A</text><text transform="translate(239.57,841.60) scale(0.785,1)">T</text><text transform="translate(283.85,841.60) scale(0.907,1)">R</text><text transform="translate(336.72,841.60) scale(0.723,1)">A</text><text transform="translate(376.77,841.60) scale(0.799,1)">C</text><text transform="translate(422.93,841.60) scale(0.840,1)">K</text><text transform="translate(476.00,841.60) scale(0.784,1)">E</text><text transform="translate(518.46,841.60) scale(0.813,1)">R</text><circle cx="572.6" cy="837.9" r="4.20"/><text transform="translate(587.90,841.60) scale(0.865,1)">R</text><text transform="translate(637.91,841.60) scale(0.886,1)">U</text></g><g fill="#fff" stroke="#fff" stroke-width="5.2"><text transform="translate(111.35,841.60) scale(0.988,1)">S</text><text transform="translate(155.00,841.60) scale(0.784,1)">E</text><text transform="translate(196.37,841.60) scale(0.803,1)">A</text><text transform="translate(239.57,841.60) scale(0.785,1)">T</text><text transform="translate(283.85,841.60) scale(0.907,1)">R</text><text transform="translate(336.72,841.60) scale(0.723,1)">A</text><text transform="translate(376.77,841.60) scale(0.799,1)">C</text><text transform="translate(422.93,841.60) scale(0.840,1)">K</text><text transform="translate(476.00,841.60) scale(0.784,1)">E</text><text transform="translate(518.46,841.60) scale(0.813,1)">R</text><circle cx="572.6" cy="837.9" r="4.20"/><text transform="translate(587.90,841.60) scale(0.865,1)">R</text><text transform="translate(637.91,841.60) scale(0.886,1)">U</text></g></g>
<g font-family="Liberation Serif" font-weight="bold" font-size="67.50" clip-path="url(#lo)" fill="#64a9cb" stroke="#64a9cb" stroke-width="8.8" stroke-linejoin="round"><text transform="translate(111.35,841.60) scale(0.988,1)">S</text><text transform="translate(155.00,841.60) scale(0.784,1)">E</text><text transform="translate(196.37,841.60) scale(0.803,1)">A</text><text transform="translate(239.57,841.60) scale(0.785,1)">T</text><text transform="translate(283.85,841.60) scale(0.907,1)">R</text><text transform="translate(336.72,841.60) scale(0.723,1)">A</text><text transform="translate(376.77,841.60) scale(0.799,1)">C</text><text transform="translate(422.93,841.60) scale(0.840,1)">K</text><text transform="translate(476.00,841.60) scale(0.784,1)">E</text><text transform="translate(518.46,841.60) scale(0.813,1)">R</text><circle cx="572.6" cy="837.9" r="4.20"/><text transform="translate(587.90,841.60) scale(0.865,1)">R</text><text transform="translate(637.91,841.60) scale(0.886,1)">U</text></g>
<line x1="128.7" y1="837" x2="128.7" y2="850" stroke="#fff" stroke-width="1.7"/>
<line x1="130.3" y1="790" x2="130.3" y2="800" stroke="#fff" stroke-width="1.7"/>
<line x1="173" y1="790" x2="173" y2="850" stroke="#fff" stroke-width="1.7"/>
<line x1="398" y1="834" x2="398" y2="850" stroke="#fff" stroke-width="1.7"/>
<line x1="398" y1="790" x2="398" y2="806" stroke="#fff" stroke-width="1.7"/>
<line x1="444.5" y1="790" x2="444.5" y2="850" stroke="#fff" stroke-width="1.7"/>
<line x1="494" y1="790" x2="494" y2="850" stroke="#fff" stroke-width="1.7"/>
<line x1="306" y1="790" x2="306" y2="850" stroke="#fff" stroke-width="1.7"/>
<line x1="538" y1="790" x2="538" y2="850" stroke="#fff" stroke-width="1.7"/>
<line x1="609" y1="790" x2="609" y2="850" stroke="#fff" stroke-width="1.7"/>
<line x1="664" y1="826" x2="664" y2="850" stroke="#fff" stroke-width="1.7"/>
</svg>
</body></html>
